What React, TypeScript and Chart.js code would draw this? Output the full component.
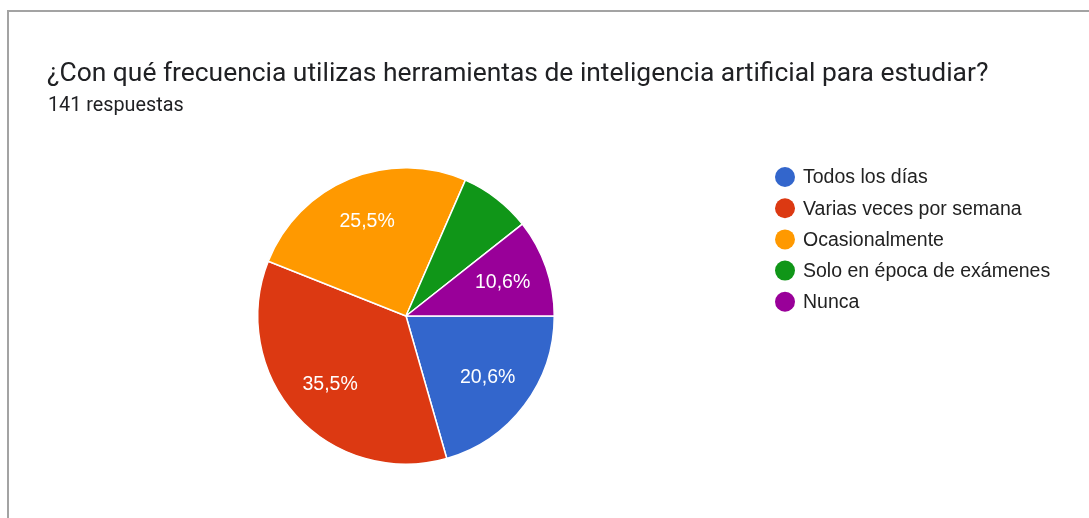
import React, { useEffect, useRef } from "react";
import { Chart, registerables } from "chart.js";

Chart.register(...registerables);

const TITLE = "¿Con qué frecuencia utilizas herramientas de inteligencia artificial para estudiar?";
const SUBTITLE = "141 respuestas";
const categories = [
  "Todos los días",
  "Varias veces por semana",
  "Ocasionalmente",
  "Solo en época de exámenes",
  "Nunca",
];
const counts = [29, 50, 36, 11, 15];
const colors = ["#3366cc", "#dc3912", "#ff9900", "#109618", "#990099"];

const overlay = {
  id: "overlay",
  beforeDraw(chart: any) {
    const ctx = chart.ctx;
    ctx.save();
    ctx.fillStyle = "#ffffff";
    ctx.fillRect(0, 0, chart.width, chart.height);
    ctx.fillStyle = "#a3a3a3";
    ctx.fillRect(7, 10, chart.width - 7, 2);
    ctx.fillRect(7, 10, 2, chart.height - 10);
    ctx.restore();
  },
  afterDraw(chart: any) {
    const ctx = chart.ctx;
    ctx.save();
    ctx.textBaseline = "alphabetic";
    ctx.textAlign = "left";
    ctx.fillStyle = "#202124";
    ctx.font = "26.4px Roboto";
    ctx.fillText(TITLE, 47, 81);
    ctx.font = "19.8px Roboto";
    ctx.fillText(SUBTITLE, 48, 111);

    // legend
    const total = counts.reduce((a, b) => a + b, 0);
    categories.forEach((c, i) => {
      const y = 177 + i * 31.2;
      ctx.beginPath();
      ctx.fillStyle = colors[i];
      ctx.arc(785, y, 10, 0, Math.PI * 2);
      ctx.fill();
      ctx.fillStyle = "#222222";
      ctx.font = "19.5px 'Liberation Sans'";
      ctx.textBaseline = "middle";
      ctx.fillText(c, 803, y + 1);
    });

    // slice labels
    const meta = chart.getDatasetMeta(0);
    ctx.textAlign = "center";
    ctx.textBaseline = "middle";
    ctx.font = "19.5px 'Liberation Sans'";
    ctx.fillStyle = "#ffffff";
    meta.data.forEach((arc: any, i: number) => {
      const pct = (counts[i] / total) * 100;
      if (pct < 9) return;
      const { x, y, startAngle, endAngle, outerRadius } = arc.getProps(
        ["x", "y", "startAngle", "endAngle", "outerRadius"],
        true
      );
      const mid = (startAngle + endAngle) / 2;
      const r = outerRadius * 0.69;
      const label = pct.toFixed(1).replace(".", ",") + "%";
      ctx.fillText(label, x + Math.cos(mid) * r, y + Math.sin(mid) * r);
    });
    ctx.restore();
  },
};

export default function App() {
  const ref = useRef<HTMLCanvasElement>(null);
  useEffect(() => {
    document.body.style.margin = "0";
    const chart = new Chart(ref.current!, {
      type: "pie",
      data: {
        labels: categories,
        datasets: [
          {
            data: counts,
            backgroundColor: colors,
            borderColor: "#ffffff",
            borderWidth: 1.5,
          },
        ],
      },
      options: {
        animation: false,
        responsive: false,
        rotation: 90,
        layout: { padding: { left: 257, right: 534, top: 167, bottom: 53 } },
        plugins: {
          legend: { display: false },
          tooltip: { enabled: false },
        },
      },
      plugins: [overlay],
    });
    return () => chart.destroy();
  }, []);
  return (
    <div style={{ position: "fixed", left: 0, top: 0, width: 1089, height: 518 }}>
      <canvas ref={ref} width={1089} height={518} style={{ width: 1089, height: 518 }} />
    </div>
  );
}
